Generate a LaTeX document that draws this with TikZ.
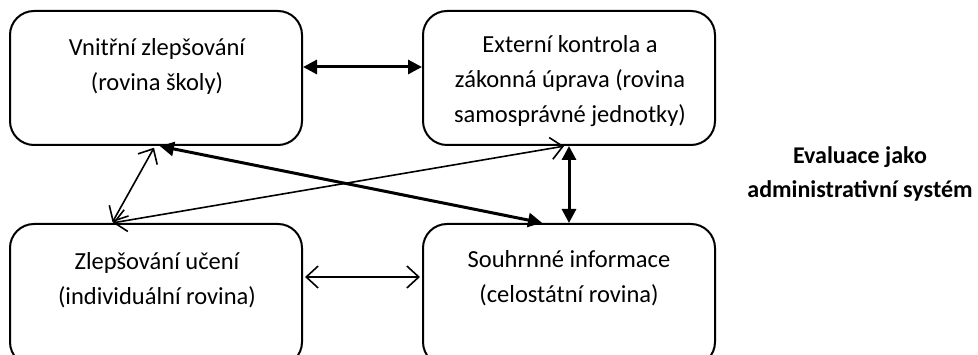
\documentclass[tikz,border=0pt]{standalone}
\usepackage{fontspec}
\setmainfont{Carlito}
\usetikzlibrary{arrows.meta}
\begin{document}
\begin{tikzpicture}[x=1pt,y=-1pt,
  box/.style={draw, line width=2pt, rounded corners=24pt, minimum width=292pt, minimum height=134pt, inner sep=0pt},
  tallbox/.style={box, minimum height=142pt},
  txt/.style={font=\fontsize{24.5}{35}\selectfont, align=center, inner sep=0pt, anchor=base},
  boldtxt/.style={txt, font=\fontsize{24}{34}\selectfont\bfseries},
  thickarrow/.style={line width=3pt, {Triangle[length=14pt,width=14pt]}-{Triangle[length=14pt,width=14pt]}},
  thinarrow/.style={line width=1.6pt, {Straight Barb[length=12pt,width=22pt]}-{Straight Barb[length=12pt,width=22pt]}}]
\useasboundingbox (0,0) rectangle (978,355);
\clip (0,0) rectangle (978,355);
% boxes
\node[box] (tl) at (156,78) {};
\node[box] (tr) at (569,78) {};
\node[tallbox] (bl) at (156,295) {};
\node[tallbox] (br) at (569,295) {};
% texts (anchor=base is the baseline of the last line)
\node[txt] (tlt) at (157,91) {Vnitřní zlepšování\\(rovina školy)};
\node[txt] (trt) at (570,123) {Externí kontrola a\\zákonná úprava (rovina\\samosprávné jednotky)};
\node[txt] (blt) at (157,305) {Zlepšování učení\\(individuální rovina)};
\node[txt] (brt) at (569,303) {Souhrnné informace\\(celostátní rovina)};
\node[boldtxt] (side) at (860,198) {Evaluace jako\\administrativní systém};
% connectors
\draw[thickarrow] ([yshift=11pt]tl.east) -- ([yshift=11pt]tr.west);
\draw[thickarrow] (tr.south) -- (br.north);
\draw[thinarrow, shorten <=2pt, shorten >=2pt] ([yshift=18pt]bl.east) -- ([yshift=18pt]br.west);
\draw[thinarrow, shorten <=2pt, shorten >=1pt] ([xshift=-1pt]tl.south) -- ([xshift=-44pt]bl.north);
\draw[thickarrow, shorten <=1pt, shorten >=1pt] ([xshift=3pt]tl.south) -- ([xshift=-26pt]br.north);
\draw[thinarrow, shorten <=1pt, shorten >=1pt] ([xshift=-44pt]bl.north) -- ([xshift=-4pt]tr.south);
\end{tikzpicture}
\end{document}
